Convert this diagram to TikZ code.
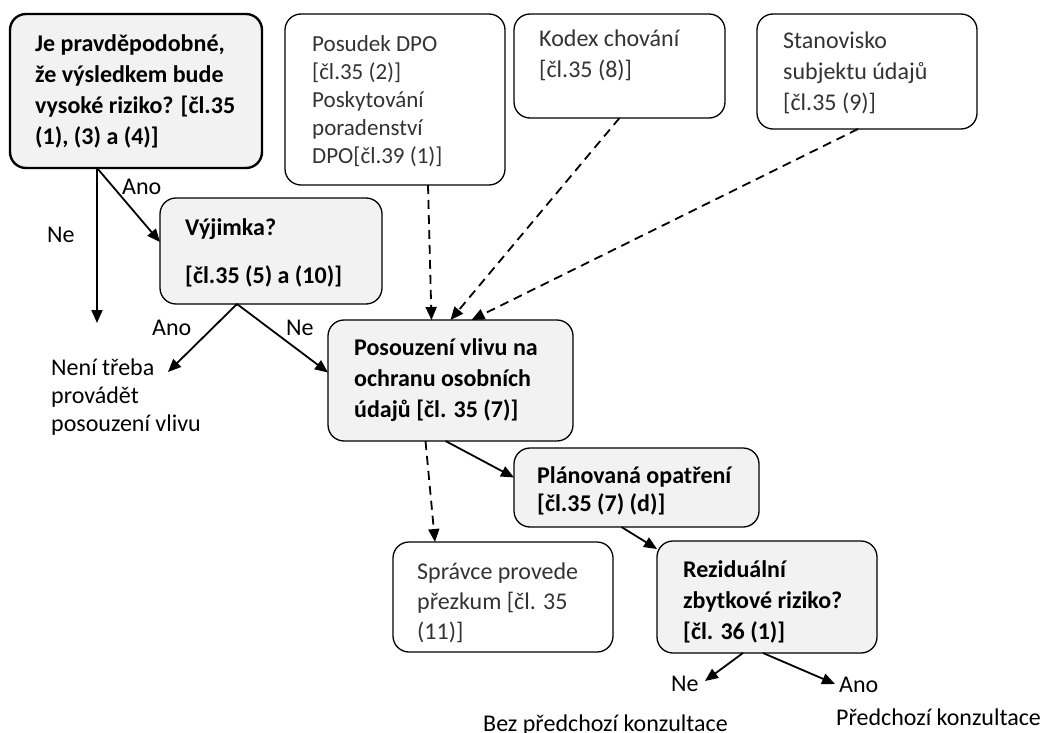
\documentclass[tikz,border=0pt]{standalone}
\usepackage{fontspec}
\setmainfont{Carlito}
\usetikzlibrary{arrows.meta}
\definecolor{dpagray}{HTML}{F2F2F2}
\definecolor{dpatext}{HTML}{333333}

\begin{document}
\begin{tikzpicture}[x=1pt, y=-1pt,
  box/.style={rounded corners=16pt, draw, line width=1.3pt, inner sep=0pt,
              outer sep=0pt, anchor=north west},
  qbox/.style={box, fill=dpagray},
  txt/.style={anchor=base west, align=left, inner sep=0pt, text=dpatext,
              font=\fontsize{24}{31}\selectfont},
  qtxt/.style={txt, text=black, font=\fontsize{24}{31}\selectfont\bfseries},
  ltxt/.style={txt, text=black, font=\fontsize{24}{28}\selectfont},
  ar/.style={-{Triangle[length=13pt, width=11pt]}, line width=1.8pt},
  dar/.style={ar, dash pattern=on 9pt off 6pt}]

\path[use as bounding box, fill=white] (0,0) rectangle (1047,733);

% ---- first question (text placed by its last baseline) ------------
\node[qbox, line width=2.4pt, minimum width=252pt, minimum height=154pt] (qa) at (10,14) {};
\node[qtxt] (ta) at (35,145)
  {Je pravděpodobné,\\že výsledkem bude\\vysoké riziko? [čl.35\\(1), (3) a (4)]};

% ---- inputs ---------------------------------------------------------
\node[box, minimum width=220pt, minimum height=171pt] (qb) at (285,14) {};
\node[txt, font=\fontsize{23}{28}\selectfont] (tb) at (312,164)
  {Posudek DPO\\{}[čl.35 (2)]\\Poskytování\\poradenství\\DPO[čl.39 (1)]};

\node[box, minimum width=211pt, minimum height=104pt] (qc) at (514,14) {};
\node[txt] (tc) at (539,78) {Kodex chování\\{}[čl.35 (8)]};

\node[box, minimum width=220pt, minimum height=115pt] (qd) at (757,14) {};
\node[txt] (td) at (783,111) {Stanovisko\\subjektu údajů\\{}[čl.35 (9)]};

% ---- exemption ------------------------------------------------------
\node[qbox, minimum width=222pt, minimum height=106pt] (qe) at (160,198) {};
\node[qtxt] (te) at (185,283) {Výjimka?\\[17pt][čl.35 (5) a (10)]};

\node[ltxt] (tn) at (51,431) {Není třeba\\provádět\\posouzení vlivu};
\coordinate (ne1) at (97,323);
\coordinate (nt1) at (168,372);

% ---- assessment -----------------------------------------------------
\node[qbox, minimum width=245pt, minimum height=121pt] (qf) at (328,320) {};
\node[qtxt] (tf) at (354,417)
  {Posouzení vlivu na\\ochranu osobních\\údajů [čl. 35 (7)]};

\node[qbox, minimum width=245pt, minimum height=79pt] (qg) at (514,448) {};
\node[qtxt, font=\fontsize{24}{28}\selectfont\bfseries] (tg) at (537,511)
  {Plánovaná opatření\\{}[čl.35 (7) (d)]};

\node[box, minimum width=220pt, minimum height=110pt] (qh) at (393,542) {};
\node[txt, font=\fontsize{24}{30}\selectfont] (th) at (417,639)
  {Správce provede\\přezkum [čl. 35\\(11)]};

\node[qbox, minimum width=220pt, minimum height=112pt] (qi) at (657,541) {};
\node[qtxt] (ti) at (683,639) {Reziduální\\zbytkové riziko?\\{}[čl. 36 (1)]};

\coordinate (ne3) at (705,681);
\coordinate (ano3) at (835,684);

% ---- labels ---------------------------------------------------------
\node[ltxt] (la1) at (122,194) {Ano};
\node[ltxt] (ln1) at (47,242) {Ne};
\node[ltxt] (la2) at (152,335) {Ano};
\node[ltxt] (ln2) at (286,335) {Ne};
\node[ltxt] (ln3) at (671,691) {Ne};
\node[ltxt] (la3) at (839,692) {Ano};
\node[ltxt] (tz1) at (483,731) {Bez předchozí konzultace};
\node[ltxt] (tz2) at (836,725) {Předchozí konzultace};

% ---- connectors -----------------------------------------------------
\draw[ar] ([xshift=-39pt]qa.south) -- (ne1);
\draw[ar] ([xshift=-39pt]qa.south) -- ([yshift=9pt]qe.west);
\draw[ar] ([xshift=-34pt]qe.south) -- (nt1);
\draw[ar] ([xshift=-34pt]qe.south) -- ([yshift=8pt]qf.west);
\draw[dar] ([xshift=33pt]qb.south) -- ([xshift=-19pt]qf.north);
\draw[dar] (qc.south) -- (qf.north);
\draw[dar] ([xshift=-9pt]qd.south) -- ([xshift=21pt]qf.north);
\draw[dar] ([xshift=-25pt]qf.south) -- ([xshift=-68pt]qh.north);
\draw[ar] ([xshift=-5pt]qf.south) -- ([yshift=10pt]qg.west);
\draw[ar] ([xshift=-15pt]qg.south) -- ([yshift=48pt]qi.west);
\draw[ar] ([xshift=-24pt]qi.south) -- (ne3);
\draw[ar] ([xshift=-4pt]qi.south) -- (ano3);
\end{tikzpicture}
\end{document}
